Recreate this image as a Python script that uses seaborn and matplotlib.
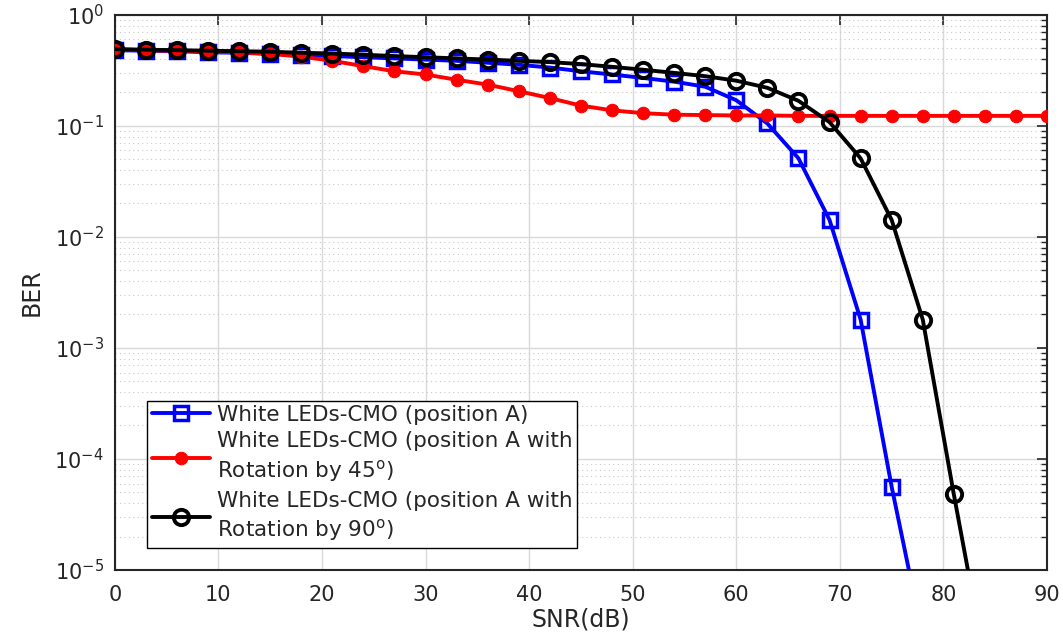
import numpy as np
import pandas as pd
import matplotlib
matplotlib.use("Agg")
import matplotlib.pyplot as plt
import seaborn as sns
from matplotlib.ticker import LogLocator, NullFormatter, MultipleLocator

snr_blue = [0, 3, 6, 9, 12, 15, 18, 21, 24, 27, 30, 33, 36, 39, 42, 45, 48, 51, 54, 57, 60, 63, 66, 69, 72, 75, 78]
ber_blue = [0.48, 0.475, 0.47, 0.46, 0.455, 0.445, 0.435, 0.425, 0.415, 0.405, 0.395, 0.385, 0.37, 0.355, 0.335,
            0.31, 0.29, 0.27, 0.25, 0.225, 0.17, 0.105, 0.051, 0.0142, 0.0018, 5.6e-5, 2.5e-6]

snr_red = [0, 3, 6, 9, 12, 15, 18, 21, 24, 27, 30, 33, 36, 39, 42, 45, 48, 51, 54, 57, 60, 63, 66, 69, 72, 75, 78, 81, 84, 87, 90]
ber_red = [0.49, 0.48, 0.475, 0.47, 0.46, 0.445, 0.42, 0.385, 0.345, 0.31, 0.29, 0.26, 0.235, 0.205, 0.178,
           0.152, 0.138, 0.13, 0.126, 0.125, 0.124, 0.124, 0.123, 0.123, 0.123, 0.123, 0.123, 0.123, 0.123, 0.123, 0.123]

snr_black = [0, 3, 6, 9, 12, 15, 18, 21, 24, 27, 30, 33, 36, 39, 42, 45, 48, 51, 54, 57, 60, 63, 66, 69, 72, 75, 78, 81, 84]
ber_black = [0.49, 0.485, 0.48, 0.475, 0.47, 0.465, 0.455, 0.448, 0.437, 0.425, 0.415, 0.405, 0.395, 0.385, 0.375,
             0.36, 0.34, 0.32, 0.30, 0.28, 0.255, 0.22, 0.168, 0.108, 0.051, 0.0142, 0.0018, 4.8e-5, 1.5e-6]

labels = ["White LEDs-CMO (position A)",
          "White LEDs-CMO (position A with\nRotation by 45$^{\\mathrm{o}}$)",
          "White LEDs-CMO (position A with\nRotation by 90$^{\\mathrm{o}}$)"]

sns.set_style("white")
plt.rcParams['font.family'] = ['DejaVu Sans']
plt.rcParams['mathtext.fontset'] = 'dejavusans'

fig = plt.figure(figsize=(10.63, 6.44), dpi=100)
ax = fig.add_axes([0.108, 0.115, 0.877, 0.862])

df_b = pd.DataFrame({"snr": snr_blue, "ber": ber_blue})
df_r = pd.DataFrame({"snr": snr_red, "ber": ber_red})
df_k = pd.DataFrame({"snr": snr_black, "ber": ber_black})

sns.lineplot(data=df_b, x="snr", y="ber", ax=ax, color="#0000ff", lw=2.8, marker="s", markersize=10,
             markerfacecolor="none", markeredgecolor="#0000ff", markeredgewidth=2.5, label=labels[0], zorder=3)
sns.lineplot(data=df_r, x="snr", y="ber", ax=ax, color="#ff0000", lw=2.8, marker="o", markersize=9,
             markerfacecolor="#ff0000", markeredgecolor="#ff0000", label=labels[1], zorder=4)
sns.lineplot(data=df_k, x="snr", y="ber", ax=ax, color="black", lw=2.8, marker="o", markersize=11,
             markerfacecolor="none", markeredgecolor="black", markeredgewidth=2.8, label=labels[2], zorder=5)

ax.set_yscale("log")
ax.set_xlim(0, 90)
ax.set_ylim(1e-5, 1)
ax.xaxis.set_major_locator(MultipleLocator(10))
ax.yaxis.set_major_locator(LogLocator(base=10, numticks=10))
ax.yaxis.set_minor_locator(LogLocator(base=10, subs=np.arange(2, 10), numticks=20))
ax.yaxis.set_minor_formatter(NullFormatter())

ax.grid(True, which="major", color="#d9d9d9", lw=1.0, ls="-")
ax.grid(True, which="minor", axis="y", color="#c8c8c8", lw=0.8, ls=(0, (1, 3)))
ax.set_axisbelow(True)

ax.tick_params(axis="both", which="both", direction="in", top=True, right=True, labelsize=15, colors="#262626")
ax.tick_params(which="major", length=7, width=1.2)
ax.tick_params(which="minor", length=4, width=1.0)
ax.tick_params(axis="x", which="major", pad=11)
ax.tick_params(axis="y", which="major", pad=8)
for s in ax.spines.values():
    s.set_color("#262626")
    s.set_linewidth(1.5)

ax.set_xlabel("SNR(dB)", fontsize=17, color="#262626", labelpad=2)
ax.set_ylabel("BER", fontsize=17, color="#262626", labelpad=8)

leg = ax.legend(loc="lower left", bbox_to_anchor=(0.035, 0.04), fontsize=15.5, frameon=True, fancybox=False,
                edgecolor="black", framealpha=1, handlelength=2.7, borderpad=0.2, labelspacing=0.3,
                handletextpad=0.35, borderaxespad=0)
leg.get_frame().set_linewidth(1.0)
for t in leg.get_texts():
    t.set_linespacing(1.35)

fig.savefig("out.png", dpi=100)
